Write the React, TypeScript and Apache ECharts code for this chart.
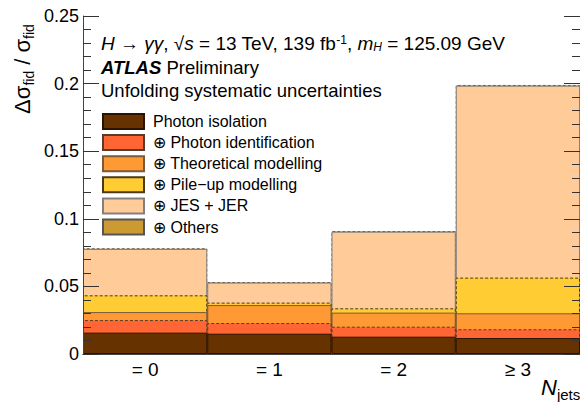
import React, { useEffect, useRef } from "react";
import * as echarts from "echarts";

const categories = ["= 0", "= 1", "= 2", "≥ 3"];
// cumulative (quadrature-summed) envelopes as drawn
const photonIso = [0.0158, 0.015, 0.0128, 0.0118];
const photonId = [0.0251, 0.0229, 0.0202, 0.0183];
const theory = [0.031, 0.0362, 0.0306, 0.0301];
const pileUp = [0.0434, 0.038, 0.0338, 0.0565];
const jesJer = [0.0777, 0.0528, 0.0905, 0.1985];
const others = [0.0782, 0.0532, 0.0909, 0.199];

const yTicks = [0, 0.05, 0.1, 0.15, 0.2, 0.25];

const FONT = "'Liberation Sans', Arial, Helvetica, sans-serif";

const seriesDefs = [
  { name: "⊕ Others", data: others, color: "#CC9933", border: "#555555", dashed: true },
  { name: "⊕ JES + JER", data: jesJer, color: "#FFCC99", border: "#808080", dashed: false },
  { name: "⊕ Pile−up modelling", data: pileUp, color: "#FFCC33", border: "#4a3a1a", dashed: true },
  { name: "⊕ Theoretical modelling", data: theory, color: "#FF9933", border: "#7a5a3a", dashed: false },
  { name: "⊕ Photon identification", data: photonId, color: "#FF6633", border: "#5a3a2a", dashed: true },
  { name: "Photon isolation", data: photonIso, color: "#663300", border: "#2a1400", dashed: false },
];

const legendOrder = [
  "Photon isolation",
  "⊕ Photon identification",
  "⊕ Theoretical modelling",
  "⊕ Pile−up modelling",
  "⊕ JES + JER",
  "⊕ Others",
];

export default function App() {
  const ref = useRef<HTMLDivElement>(null);
  useEffect(() => {
    if (!ref.current) return;
    const chart = echarts.init(ref.current, undefined, { renderer: "svg" });
    const axisLineStyle = { color: "#444", width: 1 };
    const tickStyle = { color: "#333", width: 1 };
    const option: any = {
      animation: false,
      textStyle: { fontFamily: FONT },
      grid: { left: 83, top: 16, width: 500, height: 338 },
      legend: {
        data: legendOrder,
        orient: "vertical",
        left: 102,
        top: 113,
        padding: 0,
        itemWidth: 41,
        itemHeight: 15,
        itemGap: 4.1,
        icon: "rect",
        selectedMode: false,
        textStyle: {
          fontFamily: FONT,
          fontSize: 16,
          lineHeight: 15,
          height: 15,
          color: "#000",
          padding: [0, 0, 0, 4],
        },
      },
      xAxis: [
        {
          type: "category",
          data: categories,
          position: "bottom",
          z: 5,
          axisLine: { lineStyle: axisLineStyle },
          axisTick: { inside: true, length: 10, lineStyle: tickStyle },
          axisLabel: { fontFamily: FONT, fontSize: 19, color: "#000", margin: 6 },
          splitLine: { show: false },
        },
        {
          type: "category",
          data: categories,
          position: "top",
          z: 5,
          axisLine: { lineStyle: axisLineStyle },
          axisTick: { inside: true, length: 9, lineStyle: tickStyle },
          axisLabel: { show: false },
          splitLine: { show: false },
        },
      ],
      yAxis: [
        {
          type: "value",
          min: 0,
          max: 0.25,
          interval: 0.05,
          position: "left",
          z: 5,
          axisLine: { show: true, lineStyle: axisLineStyle },
          axisTick: { show: true, inside: true, length: 16, lineStyle: tickStyle },
          minorTick: { show: true, splitNumber: 5, length: 8, lineStyle: tickStyle },
          splitLine: { show: false },
          axisLabel: {
            fontFamily: FONT,
            fontSize: 18,
            color: "#000",
            margin: 4,
            formatter: (v: number) => {
              const t = yTicks.find((k) => Math.abs(k - v) < 1e-9);
              return t === undefined ? "" : String(+t.toFixed(2));
            },
          },
        },
        {
          type: "value",
          min: 0,
          max: 0.25,
          interval: 0.05,
          position: "right",
          z: 5,
          axisLine: { show: true, lineStyle: axisLineStyle },
          axisTick: { show: true, inside: true, length: 16, lineStyle: tickStyle },
          minorTick: { show: true, splitNumber: 5, length: 8, lineStyle: tickStyle },
          splitLine: { show: false },
          axisLabel: { show: false },
        },
      ],
      series: seriesDefs.map((s) => ({
        type: "bar",
        name: s.name,
        data: s.data,
        xAxisIndex: 0,
        yAxisIndex: 0,
        barGap: "-100%",
        barCategoryGap: 0,
        itemStyle: {
          color: s.color,
          borderColor: s.border,
          borderWidth: 1,
          borderType: s.dashed ? [3, 2] : "solid",
        },
        emphasis: { disabled: true },
      })),
      graphic: [
        {
          type: "text",
          x: 25,
          y: 69,
          rotation: Math.PI / 2,
          style: {
            text: "{m|Δσ}{s|fid}{m| / σ}{s|fid}",
            align: "center",
            verticalAlign: "middle",
            fill: "#000",
            rich: {
              m: { fontFamily: FONT, fontSize: 22, lineHeight: 22, padding: [0, 0, 6, 0], color: "#000" },
              s: { fontFamily: FONT, fontSize: 14, lineHeight: 14, verticalAlign: "bottom", color: "#000" },
            },
          },
        },
        {
          type: "text",
          x: 101,
          y: 43,
          style: {
            text:
              "{i|H}{n| → }{i|γγ}{n|, √}{i|s}{n| = 13 TeV, 139 fb}{sup|-1}{n|, }{i|m}{sub|H}{n| = 125.09 GeV}",
            align: "left",
            verticalAlign: "middle",
            fill: "#000",
            rich: {
              n: { fontFamily: FONT, fontSize: 19, lineHeight: 19, padding: [3, 0, 3, 0], color: "#000" },
              i: { fontFamily: FONT, fontSize: 19, lineHeight: 19, fontStyle: "italic", padding: [3, 0, 3, 0], color: "#000" },
              sup: { fontFamily: FONT, fontSize: 12, lineHeight: 12, verticalAlign: "top", color: "#000" },
              sub: { fontFamily: FONT, fontSize: 12, lineHeight: 12, verticalAlign: "bottom", fontStyle: "italic", color: "#000" },
            },
          },
        },
        {
          type: "text",
          x: 101,
          y: 67,
          style: {
            text: "{b|ATLAS}{n| Preliminary}",
            align: "left",
            verticalAlign: "middle",
            rich: {
              b: { fontFamily: FONT, fontSize: 18.5, fontWeight: "bold", fontStyle: "italic", color: "#000" },
              n: { fontFamily: FONT, fontSize: 18.5, color: "#000" },
            },
          },
        },
        {
          type: "text",
          x: 101,
          y: 90,
          style: {
            text: "Unfolding systematic uncertainties",
            font: `18.5px ${FONT}`,
            fill: "#000",
            align: "left",
            verticalAlign: "middle",
          },
        },
        {
          type: "text",
          x: 541,
          y: 391,
          style: {
            text: "{n|N}{s|jets}",
            align: "left",
            verticalAlign: "middle",
            rich: {
              n: { fontFamily: FONT, fontSize: 22, lineHeight: 22, fontStyle: "italic", padding: [0, 0, 7, 0], color: "#000" },
              s: { fontFamily: FONT, fontSize: 15, lineHeight: 15, verticalAlign: "bottom", color: "#000" },
            },
          },
        },
      ],
    };
    chart.setOption(option);
    return () => chart.dispose();
  }, []);
  return <div ref={ref} style={{ width: 580, height: 402, position: "absolute", left: 0, top: 0 }} />;
}
